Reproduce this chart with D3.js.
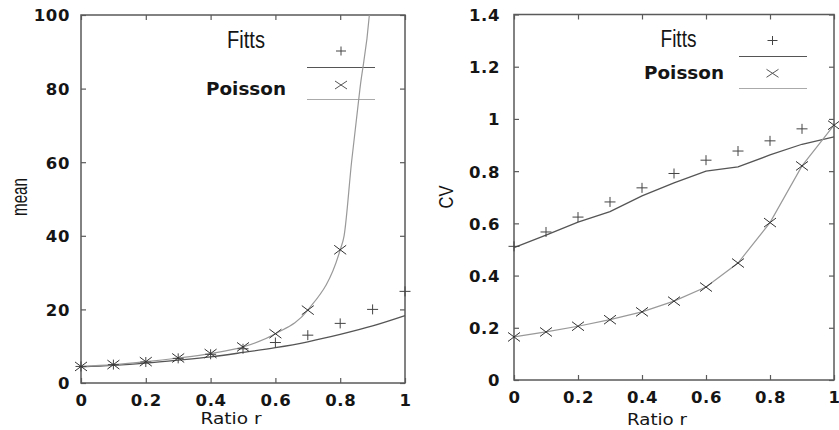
<!DOCTYPE html>
<html><head><meta charset="utf-8">
<script src="https://cdn.jsdelivr.net/npm/d3@7"></script>
<style>body{margin:0;background:#fff}svg{display:block}</style>
</head><body>
<svg id="chart" width="839" height="430"></svg>
<script>
// ---------- data ----------
const ratios = [0,0.1,0.2,0.3,0.4,0.5,0.6,0.7,0.8,0.9,1.0];
// left panel: mean
const fittsMeanPts   = [4.5,5.0,5.7,6.7,7.8,9.3,11.0,13.0,16.2,20.0,24.9];
const fittsMeanLine  = [4.4,4.8,5.4,6.2,7.1,8.3,9.6,11.2,13.2,15.5,18.3];
const poissonMeanR   = [0,0.1,0.2,0.3,0.4,0.5,0.6,0.7,0.8];
const poissonMeanPts = [4.5,5.0,5.8,6.8,8.0,9.8,13.4,19.8,36.2];
const poissonCurveR    = [0,0.1,0.2,0.3,0.4,0.5,0.6,0.7,0.8,0.812,0.835,0.861,0.89,0.9];
const poissonCurveMean = [4.5,5.0,5.8,6.8,8.0,9.8,13.4,19.8,36.2,40,60,80,100,112];
// right panel: CV
const fittsCvPts   = [0.512,0.567,0.624,0.682,0.736,0.791,0.842,0.877,0.916,0.962];
const fittsCvR     = [0,0.1,0.2,0.3,0.4,0.5,0.6,0.7,0.8,0.9];
const fittsCvLine  = [0.507,0.555,0.605,0.645,0.705,0.755,0.800,0.816,0.862,0.903,0.931];
const poissonCvPts = [0.165,0.184,0.206,0.231,0.261,0.302,0.356,0.448,0.603,0.820,0.976];
// ticks
const xTicks = [0,0.2,0.4,0.6,0.8,1];
const meanTicks = [0,20,40,60,80,100];
const cvTicks = [0,0.2,0.4,0.6,0.8,1,1.2,1.4];
const seriesNames = ["Fitts","Poisson"];

const svg = d3.select("#chart");
const frameCol = "#5a5a5a", textCol = "#151515";
const plusPath = "M-5.5,0H5.5M0,-5V5";
const crossPath = "M-6,-4.5L6,4.5M-6,4.5L6,-4.5";

function panel(opt){
  const x = d3.scaleLinear().domain([0,1]).range([opt.left,opt.right]);
  const y = d3.scaleLinear().domain(opt.ydom).range([opt.bottom,opt.top]);
  const g = svg.append("g");
  const id = "clip"+opt.name;
  svg.append("clipPath").attr("id",id).append("rect")
    .attr("x",opt.left).attr("y",opt.top).attr("width",opt.right-opt.left).attr("height",opt.bottom-opt.top);
  // axes with inward ticks on all sides
  const tl = 5;
  const ax = [
    [d3.axisBottom(x).tickValues(xTicks).tickSizeInner(-tl).tickSizeOuter(0).tickFormat(d3.format("~g")), `translate(0,${opt.bottom})`, true],
    [d3.axisTop(x).tickValues(xTicks).tickSizeInner(-tl).tickSizeOuter(0).tickFormat(""), `translate(0,${opt.top})`, false],
    [d3.axisLeft(y).tickValues(opt.yticks).tickSizeInner(-tl).tickSizeOuter(0).tickFormat(d3.format("~g")), `translate(${opt.left},0)`, true],
    [d3.axisRight(y).tickValues(opt.yticks).tickSizeInner(-tl).tickSizeOuter(0).tickFormat(""), `translate(${opt.right},0)`, false]
  ];
  ax.forEach(([a,tr,lab],i)=>{
    const ag = g.append("g").attr("transform",tr).call(a);
    ag.select(".domain").remove();
    ag.selectAll("line").attr("stroke",frameCol).attr("stroke-width",1.2);
    ag.selectAll("text").attr("fill",textCol).attr("font-family","DejaVu Sans").attr("font-weight","bold")
      .attr("font-size",16.5).attr("letter-spacing",0.6);
    if(i===0) ag.selectAll("text").attr("dy",0).attr("y",22.5);
    if(i===2) ag.selectAll("text").attr("dy","0.36em").attr("x",-opt.labGap);
  });
  g.append("rect").attr("x",opt.left).attr("y",opt.top).attr("width",opt.right-opt.left)
    .attr("height",opt.bottom-opt.top).attr("fill","none").attr("stroke",frameCol).attr("stroke-width",1.5);
  return {x,y,g,clip:id};
}

function legend(g, L){
  g.append("text").text(seriesNames[0]).attr("x",L.fx).attr("y",L.fy).attr("text-anchor","middle")
    .attr("font-family","Liberation Sans").attr("font-size",23).attr("fill",textCol)
    .attr("textLength",L.fw).attr("lengthAdjust","spacingAndGlyphs");
  g.append("path").attr("d","M-5,0H5M0,-4.5V4.5").attr("transform",`translate(${L.mx},${L.py})`)
    .attr("stroke","#444").attr("fill","none");
  g.append("line").attr("x1",L.lx1).attr("x2",L.lx2).attr("y1",L.l1y).attr("y2",L.l1y).attr("stroke","#555").attr("stroke-width",1.2);
  g.append("text").text(seriesNames[1]).attr("x",L.px).attr("y",L.pyT).attr("text-anchor","middle")
    .attr("font-family","DejaVu Sans").attr("font-weight","bold").attr("font-size",18.5).attr("fill",textCol)
    .attr("textLength",80).attr("lengthAdjust","spacingAndGlyphs");
  g.append("path").attr("d","M-6,-4L6,4M-6,4L6,-4").attr("transform",`translate(${L.mx},${L.xy})`)
    .attr("stroke","#555").attr("fill","none");
  g.append("line").attr("x1",L.lx1).attr("x2",L.lx2).attr("y1",L.l2y).attr("y2",L.l2y).attr("stroke","#aaa").attr("stroke-width",1.2);
}

// ---------- left panel ----------
const P1 = panel({name:"L",left:81,right:405,top:15,bottom:383,ydom:[0,100],yticks:meanTicks,labGap:11});
legend(P1.g,{fx:246,fy:48,fw:38,mx:341,py:51,lx1:307,lx2:375,l1y:67.5,px:246,pyT:95,xy:85,l2y:99.5});
P1.g.append("path").datum(ratios.map((r,i)=>[r,fittsMeanLine[i]]))
  .attr("d",d3.line().x(d=>P1.x(d[0])).y(d=>P1.y(d[1])).curve(d3.curveMonotoneX))
  .attr("fill","none").attr("stroke","#555").attr("stroke-width",1.3);
P1.g.append("path").datum(poissonCurveR.map((r,i)=>[r,poissonCurveMean[i]]))
  .attr("clip-path",`url(#${P1.clip})`)
  .attr("d",d3.line().x(d=>P1.x(d[0])).y(d=>P1.y(d[1])).curve(d3.curveMonotoneX))
  .attr("fill","none").attr("stroke","#999").attr("stroke-width",1.2);
P1.g.selectAll(".fp").data(ratios.map((r,i)=>[r,fittsMeanPts[i]])).join("path")
  .attr("d",plusPath).attr("transform",d=>`translate(${P1.x(d[0])},${P1.y(d[1])})`)
  .attr("stroke","#444").attr("fill","none");
P1.g.selectAll(".pp").data(poissonMeanR.map((r,i)=>[r,poissonMeanPts[i]])).join("path")
  .attr("d",crossPath).attr("transform",d=>`translate(${P1.x(d[0])},${P1.y(d[1])})`)
  .attr("stroke","#333").attr("fill","none");
svg.append("text").text("mean").attr("transform","translate(27,197) rotate(-90)").attr("text-anchor","middle")
  .attr("font-family","Liberation Sans").attr("font-size",22).attr("fill",textCol)
  .attr("textLength",38).attr("lengthAdjust","spacingAndGlyphs");
svg.append("text").text("Ratio r").attr("x",231).attr("y",424).attr("text-anchor","middle")
  .attr("font-family","DejaVu Sans").attr("font-size",16).attr("fill",textCol)
  .attr("textLength",61).attr("lengthAdjust","spacingAndGlyphs");

// ---------- right panel ----------
const P2 = panel({name:"R",left:514,right:834,top:14.5,bottom:380,ydom:[0,1.4],yticks:cvTicks,labGap:14});
legend(P2.g,{fx:678.5,fy:46.5,fw:36,mx:772.5,py:40.5,lx1:739,lx2:807,l1y:56.5,px:684,pyT:79,xy:73.3,l2y:88.5});
P2.g.append("path").datum(ratios.map((r,i)=>[r,fittsCvLine[i]]))
  .attr("d",d3.line().x(d=>P2.x(d[0])).y(d=>P2.y(d[1])))
  .attr("fill","none").attr("stroke","#555").attr("stroke-width",1.3);
P2.g.append("path").datum(ratios.map((r,i)=>[r,poissonCvPts[i]]))
  .attr("d",d3.line().x(d=>P2.x(d[0])).y(d=>P2.y(d[1])))
  .attr("fill","none").attr("stroke","#999").attr("stroke-width",1.2);
P2.g.selectAll(".fp").data(fittsCvR.map((r,i)=>[r,fittsCvPts[i]])).join("path")
  .attr("d",plusPath).attr("transform",d=>`translate(${P2.x(d[0])},${P2.y(d[1])})`)
  .attr("stroke","#444").attr("fill","none");
P2.g.selectAll(".pp").data(ratios.map((r,i)=>[r,poissonCvPts[i]])).join("path")
  .attr("d",crossPath).attr("transform",d=>`translate(${P2.x(d[0])},${P2.y(d[1])})`)
  .attr("stroke","#333").attr("fill","none");
svg.append("text").text("CV").attr("transform","translate(453,197) rotate(-90)").attr("text-anchor","middle")
  .attr("font-family","Liberation Sans").attr("font-size",21).attr("fill",textCol)
  .attr("textLength",23).attr("lengthAdjust","spacingAndGlyphs");
svg.append("text").text("Ratio r").attr("x",657).attr("y",425).attr("text-anchor","middle")
  .attr("font-family","DejaVu Sans").attr("font-size",16).attr("fill",textCol)
  .attr("textLength",60).attr("lengthAdjust","spacingAndGlyphs");
</script>
</body></html>
